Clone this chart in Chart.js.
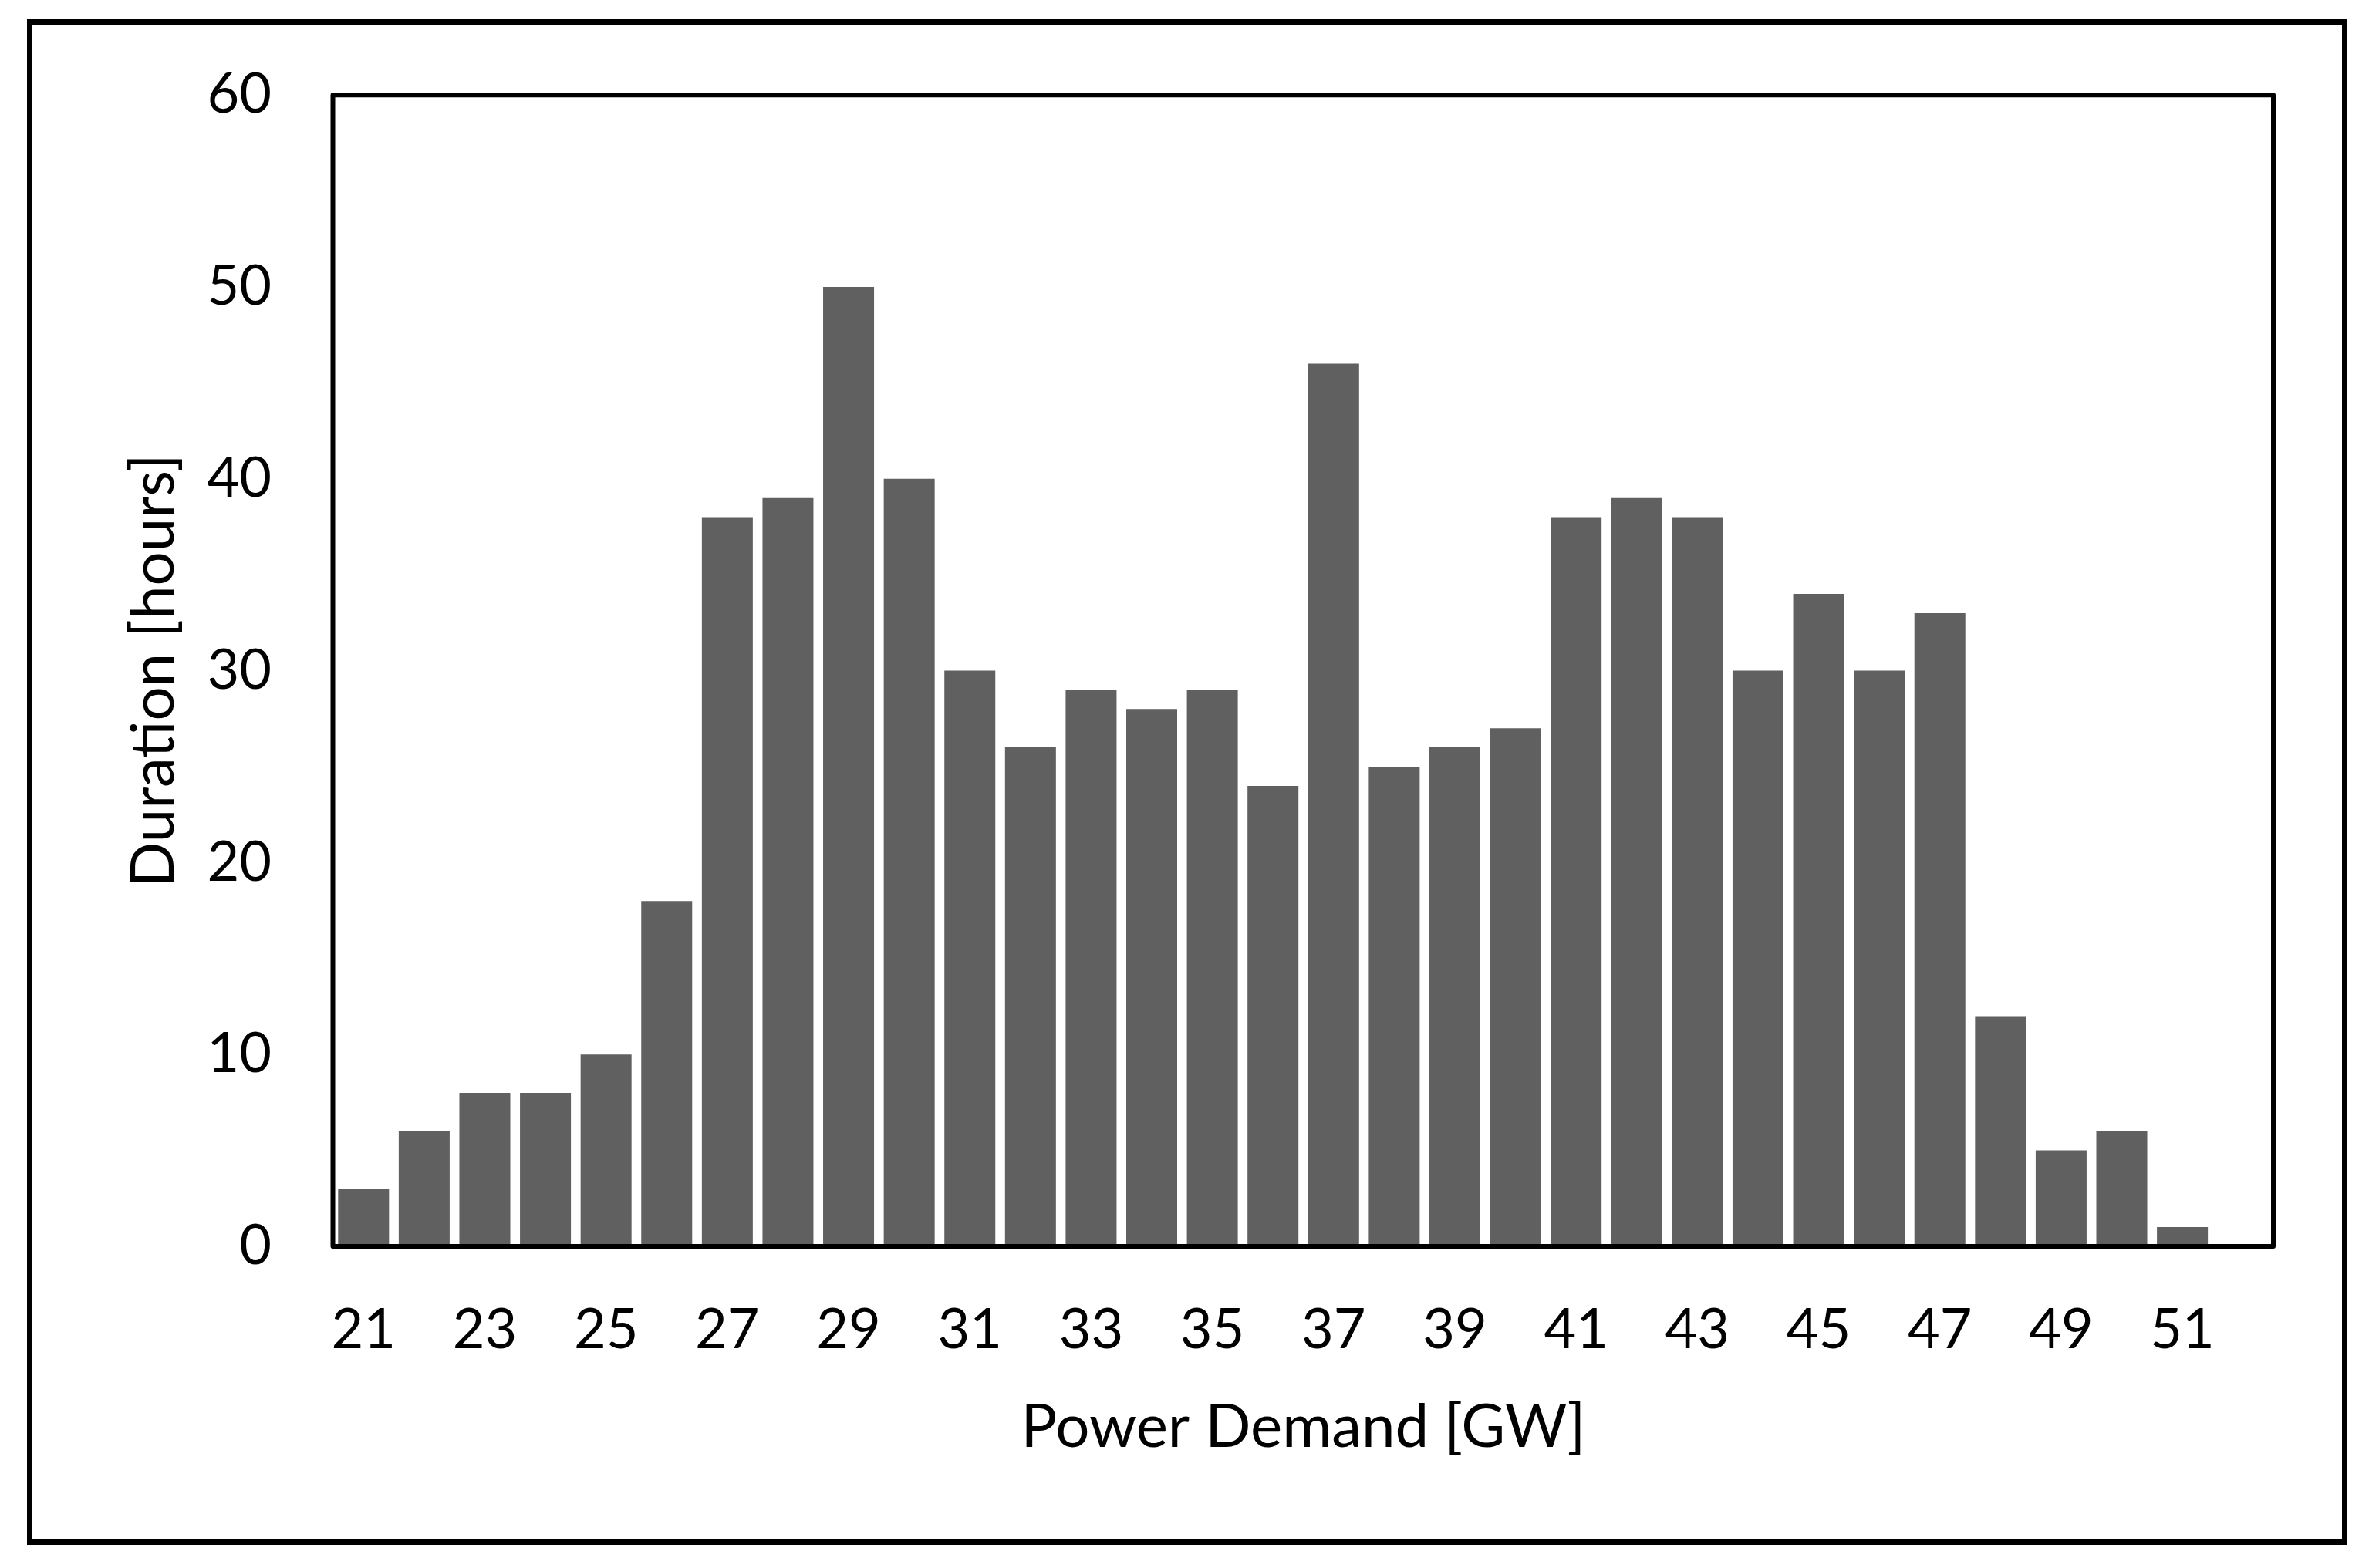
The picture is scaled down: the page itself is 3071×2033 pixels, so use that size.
<!DOCTYPE html>
<html>
<head>
<meta charset="utf-8">
<script src="https://cdn.jsdelivr.net/npm/chart.js@4"></script>
<style>
    html, body { margin: 0; padding: 0; background: white; }
    #wrap { width: 3071px; height: 2033px; }
</style>
</head>
<body>
<div id="wrap"><canvas id="myChart" width="3071" height="2033"></canvas></div>
<script>
// Power demand bins (GW) and hours spent in each
const demand = ["21", "22", "23", "24", "25", "26", "27", "28", "29", "30",
                "31", "32", "33", "34", "35", "36", "37", "38", "39", "40",
                "41", "42", "43", "44", "45", "46", "47", "48", "49", "50",
                "51", "52"];
const hours = [3, 6, 8, 8, 10, 18, 38, 39, 50, 40,
               30, 26, 29, 28, 29, 24, 46, 25, 26, 27,
               38, 39, 38, 30, 34, 30, 33, 12, 5, 6,
               1, null];
const yTicks = [0, 10, 20, 30, 40, 50, 60];

const tickFont = { family: 'Lato', size: 72 };
const titleFont = { family: 'Lato', size: 78 };

// Draws the plot box and the outer frame
const frames = {
    id: 'frames',
    afterDraw(chart) {
        const ctx = chart.ctx;
        const a = chart.chartArea;
        ctx.save();
        ctx.strokeStyle = '#000';
        ctx.lineJoin = 'round';
        ctx.lineWidth = 6;
        ctx.strokeRect(a.left - 0.5, a.top, a.right - a.left + 0.5, a.bottom - a.top);
        ctx.lineWidth = 7;
        ctx.lineJoin = 'miter';
        ctx.strokeRect(38.5, 28.5, 3001, 1971);
        ctx.restore();
    }
};

const ctx = document.getElementById('myChart').getContext('2d');
new Chart(ctx, {
    type: 'bar',
    data: {
        labels: demand,
        datasets: [{
            data: hours,
            backgroundColor: '#606060',
            borderWidth: 0,
            barPercentage: 0.84,
            categoryPercentage: 1.0
        }]
    },
    options: {
        responsive: false,
        animation: false,
        devicePixelRatio: 1,
        layout: { padding: { left: 153, right: 124, top: 118, bottom: 135 } },
        plugins: {
            legend: { display: false },
            tooltip: { enabled: false }
        },
        scales: {
            x: {
                grid: { display: false, drawTicks: false },
                border: { display: false },
                ticks: {
                    color: '#000',
                    font: tickFont,
                    padding: 66,
                    autoSkip: false,
                    maxRotation: 0,
                    minRotation: 0,
                    callback: function (value, index) {
                        return index % 2 === 0 ? demand[index] : '';
                    }
                },
                title: {
                    display: true,
                    text: 'Power Demand [GW]',
                    color: '#000',
                    font: titleFont,
                    padding: 0
                },
                afterFit(scale) { scale.height = 282; }
            },
            y: {
                min: yTicks[0],
                max: yTicks[yTicks.length - 1],
                grid: { display: false, drawTicks: false },
                border: { display: false },
                afterBuildTicks(scale) {
                    scale.ticks = yTicks.map(v => ({ value: v }));
                },
                ticks: {
                    color: '#000',
                    font: tickFont,
                    padding: 80
                },
                title: {
                    display: true,
                    text: 'Duration [hours]',
                    color: '#000',
                    font: titleFont,
                    padding: 0
                },
                afterFit(scale) { scale.width = 279; }
            }
        }
    },
    plugins: [frames]
});
</script>
</body>
</html>
